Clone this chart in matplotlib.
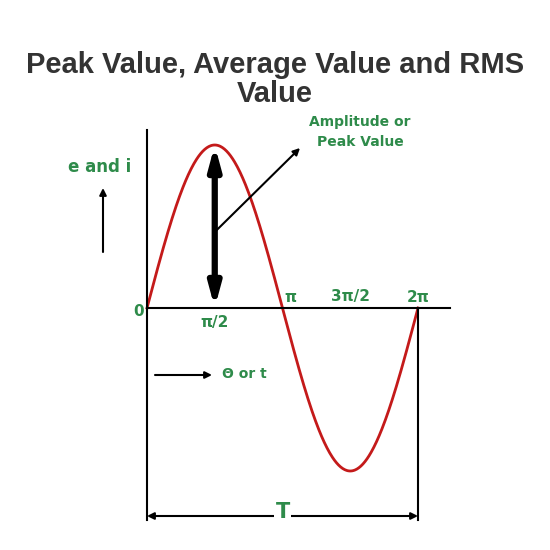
import numpy as np
import matplotlib.pyplot as plt

title = "Peak Value, Average Value and RMS\nValue"
tick_pos = [0, np.pi/2, np.pi, 3*np.pi/2, 2*np.pi]
tick_lbl = ["0", "π/2", "π", "3π/2", "2π"]
amplitude = 1.0

G = "#2e8b4a"
theta = np.linspace(0, 2*np.pi, 400)
wave = amplitude*np.sin(theta)

fig = plt.figure(figsize=(5.5, 5.5), dpi=100)
ax = fig.add_axes([0, 0, 1, 1])
s = 271/(2*np.pi); a = 163.0
ax.set_xlim(-147/s, (550-147)/s)
ax.set_ylim(-(550-308)/a, 308/a)
ax.axis('off')

def px(x, y):
    return ((x-147)/s, (308-y)/a)

fig.text(0.5, 0.855, title, ha='center', va='center', fontsize=21, fontweight='bold',
         color='#333333', linespacing=1.05, family='Liberation Sans')

ax.plot(theta, wave, color='#c41a1a', lw=2)
ax.plot([0, 0], [px(0,130)[1], px(0,520)[1]], color='black', lw=1.5)
ax.plot([0, px(450,0)[0]], [0, 0], color='black', lw=1.5)
ax.plot([2*np.pi]*2, [0, px(0,520)[1]], color='black', lw=1.5)

ax.annotate('', xy=(np.pi/2, amplitude), xytext=(np.pi/2, 0),
            arrowprops=dict(arrowstyle='<|-|>,head_width=0.35,head_length=1.3', lw=4.5, color='black', shrinkA=0, shrinkB=0))
ax.annotate('', xy=px(300,148), xytext=(np.pi/2, px(0,232)[1]),
            arrowprops=dict(arrowstyle='-|>', lw=1.5, color='black', shrinkA=0, shrinkB=0))
ax.text(*px(360,132), "Amplitude or\nPeak Value", ha='center', va='center', color=G, fontsize=10, fontweight='bold', linespacing=1.5)
ax.text(*px(100,167), "e and i", ha='center', va='center', color=G, fontsize=12, fontweight='bold')
ax.annotate('', xy=px(103,188), xytext=px(103,252),
            arrowprops=dict(arrowstyle='-|>', lw=1.5, color='black', shrinkA=0, shrinkB=0))

offs = {0: (-8, 312), 1: (0, 322), 2: (8, 297), 3: (0, 297), 4: (0, 297)}
for i, (p, l) in enumerate(zip(tick_pos, tick_lbl)):
    dx, y = offs[i]
    ax.text(p + dx/s, px(0, y)[1], l, ha='center', va='center', color=G, fontsize=11, fontweight='bold')

ax.annotate('', xy=px(212,375), xytext=px(155,375),
            arrowprops=dict(arrowstyle='-|>', lw=1.5, color='black', shrinkA=0, shrinkB=0))
ax.text(*px(222,374), "Θ or t", ha='left', va='center', color=G, fontsize=10, fontweight='bold')

ax.annotate('', xy=(2*np.pi, px(0,516)[1]), xytext=(0, px(0,516)[1]),
            arrowprops=dict(arrowstyle='<|-|>', lw=1.5, color='black', shrinkA=0, shrinkB=0))
ax.text(np.pi, px(0,512)[1], "T", ha='center', va='center', color=G, fontsize=15, fontweight='bold',
        bbox=dict(fc='white', ec='none', pad=1))

fig.savefig("out.png", dpi=100)
